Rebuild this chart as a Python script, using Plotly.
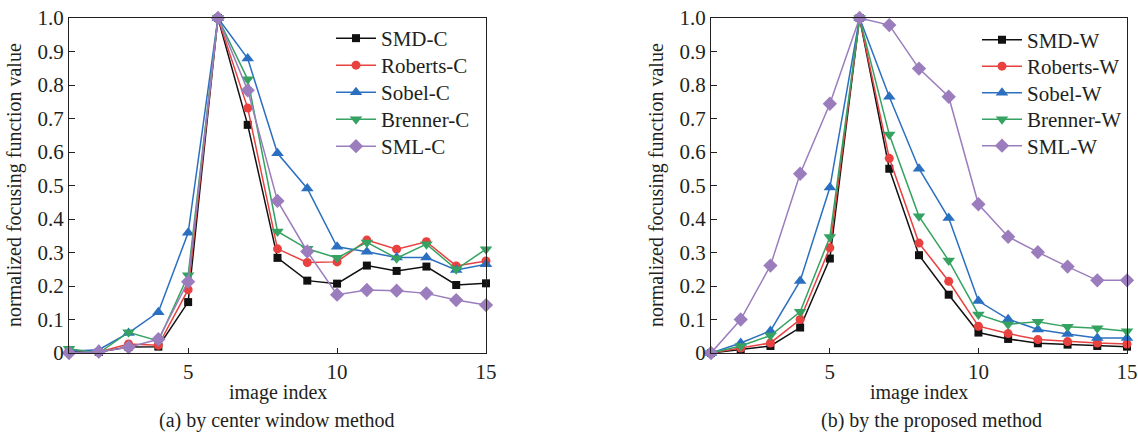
import plotly.graph_objects as go

# image index (x) shared by both panels
image_index = list(range(1, 16))

# (a) center window method
smd_c     = [0.006, 0.003, 0.018, 0.019, 0.152, 1.0, 0.681, 0.284, 0.216, 0.207, 0.261, 0.245, 0.258, 0.203, 0.208]
roberts_c = [0.008, 0.003, 0.027, 0.023, 0.189, 1.0, 0.731, 0.311, 0.270, 0.272, 0.337, 0.310, 0.332, 0.260, 0.275]
sobel_c   = [0.005, 0.010, 0.060, 0.122, 0.359, 1.0, 0.879, 0.596, 0.491, 0.317, 0.302, 0.285, 0.285, 0.248, 0.265]
brenner_c = [0.013, 0.000, 0.062, 0.036, 0.232, 1.0, 0.817, 0.363, 0.311, 0.284, 0.330, 0.283, 0.325, 0.250, 0.310]
sml_c     = [0.000, 0.004, 0.017, 0.041, 0.213, 1.0, 0.784, 0.454, 0.303, 0.174, 0.188, 0.186, 0.178, 0.158, 0.143]

# (b) proposed method
smd_w     = [0.0, 0.010, 0.021, 0.076, 0.282, 1.0, 0.550, 0.292, 0.174, 0.061, 0.042, 0.029, 0.025, 0.021, 0.019]
roberts_w = [0.0, 0.015, 0.030, 0.100, 0.314, 1.0, 0.581, 0.328, 0.214, 0.080, 0.058, 0.040, 0.034, 0.030, 0.027]
sobel_w   = [0.0, 0.030, 0.066, 0.215, 0.494, 1.0, 0.765, 0.550, 0.403, 0.155, 0.101, 0.070, 0.057, 0.045, 0.045]
brenner_w = [0.0, 0.021, 0.052, 0.123, 0.346, 1.0, 0.652, 0.408, 0.276, 0.115, 0.086, 0.093, 0.078, 0.074, 0.065]
sml_w     = [0.0, 0.100, 0.261, 0.535, 0.744, 1.0, 0.979, 0.849, 0.765, 0.444, 0.347, 0.301, 0.258, 0.217, 0.217]

y_tickvals = [0, 0.1, 0.2, 0.3, 0.4, 0.5, 0.6, 0.7, 0.8, 0.9, 1.0]
y_ticktext = ["0", "0.1", "0.2", "0.3", "0.4", "0.5", "0.6", "0.7", "0.8", "0.9", "1.0"]
x_tickvals = [5, 10, 15]

FONT = "Liberation Serif, Times New Roman, serif"
AXIS_COLOR = "#231f20"
TEXT_COLOR = "#231f20"

styles = [
    ("SMD",     "#111111", "square",         8),
    ("Roberts", "#e8413f", "circle",         9),
    ("Sobel",   "#2b6fc0", "triangle-up",   11),
    ("Brenner", "#35a262", "triangle-down", 11),
    ("SML",     "#9b7dbd", "diamond",       11),
]

W, H = 1138, 432
ytop, ybot = 18, 353
ydom = [1 - ybot / H, 1 - ytop / H]

# panel: suffix, series, axes, legend left x, legend first row y, row step
panels = [
    ("C", [smd_c, roberts_c, sobel_c, brenner_c, sml_c], "x", "y", 331, 38.5, 27.0),
    ("W", [smd_w, roberts_w, sobel_w, brenner_w, sml_w], "x2", "y2", 977, 40.0, 26.5),
]

fig = go.Figure()
legends = {}
leg_no = 0
for suffix, series, xa, ya, leg_x, leg_y0, leg_dy in panels:
    for k, ((name, color, symbol, size), values) in enumerate(zip(styles, series)):
        leg_no += 1
        leg_id = "legend" if leg_no == 1 else f"legend{leg_no}"
        fig.add_trace(go.Scatter(
            x=image_index, y=values, name=f"{name}-{suffix}",
            mode="lines+markers", xaxis=xa, yaxis=ya, legend=leg_id,
            showlegend=True,
            line=dict(color=color, width=1.5),
            marker=dict(color=color, symbol=symbol, size=size, line=dict(width=0)),
            cliponaxis=False,
        ))
        legends[leg_id] = dict(
            font=dict(family=FONT, size=21, color=TEXT_COLOR),
            bgcolor="rgba(0,0,0,0)", xanchor="left", yanchor="middle",
            x=leg_x / W, y=1 - (leg_y0 + k * leg_dy) / H, itemwidth=40,
        )

def xaxis_cfg(x0, x1, anchor):
    return dict(domain=[x0 / W, x1 / W], range=[1, 15], anchor=anchor,
                automargin=False,
                tickvals=x_tickvals, ticks="inside", ticklen=5, tickwidth=1,
                tickcolor=AXIS_COLOR, showline=True, linecolor=AXIS_COLOR,
                linewidth=1.2, mirror=True, showgrid=False, zeroline=False,
                tickfont=dict(family=FONT, size=21, color=TEXT_COLOR))

def yaxis_cfg(anchor):
    return dict(domain=ydom, range=[0, 1], anchor=anchor, automargin=False,
                tickvals=y_tickvals, ticktext=y_ticktext, ticks="inside",
                ticklen=6, tickwidth=1, tickcolor=AXIS_COLOR, showline=True,
                linecolor=AXIS_COLOR, linewidth=1.2, mirror=True,
                showgrid=False, zeroline=False,
                tickfont=dict(family=FONT, size=21, color=TEXT_COLOR))

fig.update_layout(
    width=W, height=H,
    showlegend=True,
    margin=dict(l=0, r=0, t=0, b=0, autoexpand=False),
    paper_bgcolor="white", plot_bgcolor="white",
    font=dict(family=FONT, size=20, color=TEXT_COLOR),
    xaxis=xaxis_cfg(69, 486, "y"),
    yaxis=yaxis_cfg("x"),
    xaxis2=xaxis_cfg(711, 1127, "y2"),
    yaxis2=yaxis_cfg("x2"),
    **legends,
)

annotations = []
for xl, xr, cap, cap_x in [(69, 486, "(a) by center window method", 276),
                           (711, 1127, "(b) by the proposed method", 931)]:
    annotations.append(dict(text="image index", x=(xl + xr) / 2 / W, y=1 - 392 / H,
                            xref="paper", yref="paper", showarrow=False,
                            xanchor="center", yanchor="middle",
                            font=dict(family=FONT, size=20)))
    annotations.append(dict(text=cap, x=cap_x / W, y=1 - 420 / H,
                            xref="paper", yref="paper", showarrow=False,
                            xanchor="center", yanchor="middle",
                            font=dict(family=FONT, size=20)))
    annotations.append(dict(text="normalized focusing function value",
                            x=(xl - 54) / W, y=1 - 185 / H, textangle=-90,
                            xref="paper", yref="paper", showarrow=False,
                            xanchor="center", yanchor="middle",
                            font=dict(family=FONT, size=20)))
fig.update_layout(annotations=annotations)

fig.write_html("out.html")
